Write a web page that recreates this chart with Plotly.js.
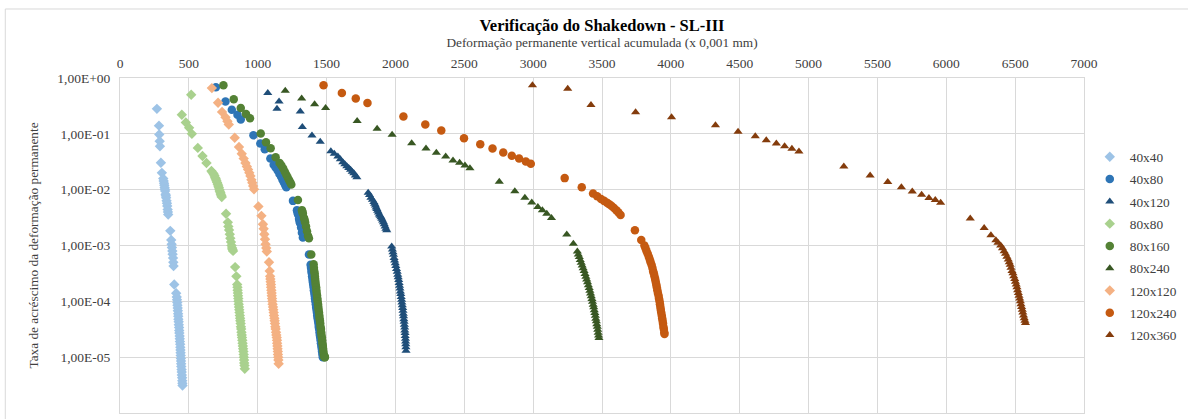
<!DOCTYPE html>
<html>
<head>
<meta charset="utf-8">
<script src="https://cdn.plot.ly/plotly-3.0.1.min.js"></script>
<style>html,body{margin:0;padding:0;background:#fff;}#chart{width:1188px;height:419px;}</style>
</head>
<body>
<div id="chart"></div>
<script>
// ---- Data ----
const seriesNames = ["40x40","40x80","40x120","80x80","80x160","80x240","120x120","120x240","120x360"];

const x_40x40 = [268,283,285,288,290,297,304,314,317,320,322,324,326,328,331,333,335,338,341,343,346,348,350,365,372,375,377,380,382,385,387,389,394,408,412,414,416,417,419,420,422,423,424,426,427,429,430,431,433,434,435,437,438,439,440,441,442,443,444,445,447,448,449,451,452,453,454];
const y_40x40 = [0.28,0.14,0.097,0.074,0.06,0.0304,0.020,0.0158,0.0143,0.013,0.012,0.0109,0.0102,0.0095,0.0083,0.0078,0.0072,0.0063,0.0057,0.0051,0.0044,0.004,0.0036,0.00183,0.00126,0.00105,0.00092,0.0008,0.0007,0.0006,0.0005,0.00043,0.0002,0.00014,1.2e-4,1.07e-4,9.5e-5,8.5e-5,7.6e-5,6.8e-5,6.0e-5,5.4e-5,4.8e-5,4.3e-5,3.8e-5,3.4e-5,3.0e-5,2.7e-5,2.4e-5,2.14e-5,1.9e-5,1.7e-5,1.5e-5,1.35e-5,1.2e-5,1.07e-5,9.5e-6,8.5e-6,7.6e-6,6.8e-6,6.0e-6,5.4e-6,4.8e-6,4.3e-6,3.8e-6,3.4e-6,3.1e-6];

const x_40x80 = [696,766,812,853,877,969,1019,1051,1092,1116,1130,1145,1158,1170,1180,1190,1200,1208,1256,1285,1289,1293,1300,1304,1308,1315,1321,1328,1372,1384,1387,1390,1393,1395,1398,1400,1403,1406,1408,1411,1414,1416,1419,1422,1424,1427,1430,1432,1435,1438,1441,1443,1446,1449,1451,1454,1457,1459,1462,1465,1467,1470,1473];
const y_40x80 = [0.68,0.38,0.27,0.22,0.18,0.094,0.067,0.053,0.036,0.028,0.025,0.022,0.019,0.017,0.015,0.0135,0.012,0.0111,0.0063,0.0043,0.0039,0.0036,0.003,0.0027,0.0025,0.0021,0.0017,0.00139,0.00069,4.5e-4,4.0e-4,3.5e-4,3.2e-4,2.8e-4,2.5e-4,2.24e-4,2.0e-4,1.78e-4,1.58e-4,1.41e-4,1.26e-4,1.12e-4,1.0e-4,8.9e-5,7.9e-5,7.1e-5,6.3e-5,5.6e-5,5.0e-5,4.5e-5,4.0e-5,3.5e-5,3.2e-5,2.8e-5,2.5e-5,2.24e-5,2.0e-5,1.78e-5,1.58e-5,1.41e-5,1.26e-5,1.12e-5,1.0e-5];

const x_40x120 = [1073,1155,1140,1309,1324,1394,1454,1531,1556,1582,1600,1618,1633,1647,1661,1674,1686,1698,1709,1720,1802,1812,1822,1833,1843,1849,1855,1860,1865,1871,1877,1883,1889,1895,1901,1907,1913,1919,1925,1931,1937,1973,1978,1982,1986,1990,1994,1999,2003,2008,2013,2017,2020,2024,2027,2030,2033,2036,2039,2042,2045,2047,2050,2053,2055,2057,2059,2061,2063,2065,2067,2068,2070,2071,2073,2074,2075,2076,2077];
const y_40x120 = [0.54,0.38,0.28,0.25,0.133,0.093,0.072,0.049,0.044,0.0393,0.035,0.031,0.0285,0.0263,0.0245,0.0228,0.021,0.0196,0.018,0.0167,0.0088,0.008,0.0072,0.0066,0.006,0.0056,0.0052,0.0048,0.0045,0.0042,0.0039,0.0036,0.0034,0.0032,0.003,0.0028,0.0026,0.0024,0.0022,0.002,0.00188,9.6e-4,8.5e-4,7.6e-4,6.8e-4,6.0e-4,5.4e-4,4.8e-4,4.3e-4,3.8e-4,3.4e-4,3.0e-4,2.7e-4,2.4e-4,2.14e-4,1.9e-4,1.7e-4,1.5e-4,1.35e-4,1.2e-4,1.07e-4,9.5e-5,8.5e-5,7.6e-5,6.8e-5,6.0e-5,5.4e-5,4.8e-5,4.3e-5,3.8e-5,3.4e-5,3.0e-5,2.7e-5,2.4e-5,2.14e-5,1.9e-5,1.7e-5,1.5e-5,1.3e-5];

const x_80x80 = [517,449,478,502,522,565,599,628,664,672,680,686,691,696,700,705,710,714,718,722,725,729,732,736,739,770,783,787,792,797,801,806,810,814,817,821,836,845,851,853,854,856,857,859,860,862,864,866,868,870,872,874,876,878,880,882,884,886,888,890,892,894,896,898,899,901,902,904,906];
const y_80x80 = [0.5,0.22,0.16,0.128,0.1,0.056,0.04,0.03,0.0217,0.0202,0.019,0.0177,0.0164,0.0155,0.0145,0.0135,0.0125,0.0116,0.0108,0.01,0.0094,0.0088,0.0083,0.0078,0.0074,0.0037,0.0026,0.0022,0.0019,0.00159,0.00135,0.00115,0.001,0.0009,0.00085,0.0008,0.00041,0.00028,2.0e-4,1.78e-4,1.58e-4,1.41e-4,1.26e-4,1.12e-4,1.0e-4,8.9e-5,7.9e-5,7.1e-5,6.3e-5,5.6e-5,5.0e-5,4.5e-5,4.0e-5,3.5e-5,3.2e-5,2.8e-5,2.5e-5,2.24e-5,2.0e-5,1.78e-5,1.58e-5,1.41e-5,1.26e-5,1.12e-5,1.0e-5,8.9e-6,7.9e-6,7.1e-6,6.2e-6];

const x_80x160 = [751,826,877,915,944,1022,1060,1094,1130,1159,1172,1185,1197,1208,1218,1228,1237,1244,1292,1321,1325,1328,1336,1340,1344,1351,1358,1365,1372,1389,1406,1408,1410,1413,1415,1417,1419,1421,1424,1426,1428,1431,1433,1435,1438,1440,1442,1445,1447,1449,1452,1454,1456,1459,1461,1463,1466,1468,1470,1473,1475,1477,1480,1482,1484,1486,1488];
const y_80x160 = [0.74,0.415,0.29,0.227,0.19,0.101,0.071,0.055,0.038,0.030,0.027,0.024,0.021,0.0185,0.0165,0.0148,0.0135,0.0124,0.0065,0.0043,0.004,0.0037,0.0031,0.0029,0.0026,0.0022,0.0018,0.0015,0.00135,0.00069,4.6e-4,4.0e-4,3.5e-4,3.2e-4,2.8e-4,2.5e-4,2.24e-4,2.0e-4,1.78e-4,1.58e-4,1.41e-4,1.26e-4,1.12e-4,1.0e-4,8.9e-5,7.9e-5,7.1e-5,6.3e-5,5.6e-5,5.0e-5,4.5e-5,4.0e-5,3.5e-5,3.2e-5,2.8e-5,2.5e-5,2.24e-5,2.0e-5,1.78e-5,1.58e-5,1.41e-5,1.26e-5,1.12e-5,1.05e-5,1.02e-5,1.0e-5,1.0e-5];

const x_80x240 = [1200,1319,1413,1493,1722,1867,1976,2118,2222,2297,2365,2418,2466,2505,2541,2754,2867,2940,2990,3034,3067,3099,3133,3244,3292,3321,3328,3335,3342,3349,3356,3363,3370,3377,3383,3389,3395,3401,3407,3412,3417,3422,3427,3431,3436,3440,3444,3448,3452,3455,3459,3462,3466,3469,3472,3475,3478];
const y_80x240 = [0.59,0.43,0.34,0.29,0.17,0.123,0.096,0.068,0.0546,0.0457,0.0393,0.0333,0.0303,0.0272,0.0243,0.0139,0.0094,0.0072,0.0059,0.0049,0.0043,0.0037,0.0031,0.00157,0.00107,7.8e-4,6.9e-4,6.2e-4,5.5e-4,4.9e-4,4.4e-4,3.9e-4,3.5e-4,3.1e-4,2.75e-4,2.45e-4,2.2e-4,1.95e-4,1.74e-4,1.55e-4,1.38e-4,1.23e-4,1.1e-4,9.8e-5,8.7e-5,7.8e-5,6.9e-5,6.2e-5,5.5e-5,4.9e-5,4.4e-5,3.9e-5,3.5e-5,3.1e-5,2.75e-5,2.45e-5,2.2e-5];

const x_120x120 = [667,712,741,766,780,790,833,864,884,898,911,921,930,939,947,954,961,967,973,1005,1027,1038,1043,1048,1053,1057,1062,1066,1082,1087,1090,1092,1094,1096,1097,1099,1101,1102,1104,1106,1108,1111,1113,1116,1118,1121,1123,1125,1128,1130,1133,1135,1138,1140,1141,1143,1144,1146,1147,1149,1150,1152];
const y_120x120 = [0.66,0.36,0.247,0.198,0.168,0.147,0.085,0.058,0.044,0.036,0.030,0.026,0.023,0.020,0.0176,0.015,0.0133,0.0116,0.0102,0.005,0.0034,0.0024,0.002,0.00159,0.0013,0.00105,0.0009,0.00078,0.0005,0.00035,2.8e-4,2.5e-4,2.24e-4,2.0e-4,1.78e-4,1.58e-4,1.41e-4,1.26e-4,1.12e-4,1.0e-4,8.9e-5,7.9e-5,7.1e-5,6.3e-5,5.6e-5,5.0e-5,4.5e-5,4.0e-5,3.5e-5,3.2e-5,2.8e-5,2.5e-5,2.24e-5,2.0e-5,1.78e-5,1.58e-5,1.41e-5,1.26e-5,1.12e-5,1.0e-5,8.9e-6,7.6e-6];

const x_120x240 = [1478,1611,1712,1797,2058,2217,2333,2498,2616,2705,2783,2845,2898,2947,2983,3229,3353,3435,3465,3493,3515,3536,3553,3570,3587,3604,3620,3635,3739,3785,3808,3816,3824,3832,3840,3847,3853,3860,3866,3871,3876,3881,3886,3890,3894,3898,3902,3906,3911,3914,3918,3921,3924,3927,3930,3934,3937,3940,3943,3946,3949,3952,3954];
const y_120x240 = [0.74,0.54,0.43,0.357,0.204,0.147,0.115,0.0835,0.065,0.0546,0.0464,0.0405,0.0362,0.032,0.0291,0.0161,0.011,0.0085,0.0076,0.0068,0.0063,0.00586,0.0055,0.0051,0.0047,0.00427,0.0039,0.00352,0.00188,0.00126,1.0e-3,8.9e-4,7.9e-4,7.1e-4,6.3e-4,5.6e-4,5.0e-4,4.5e-4,4.0e-4,3.5e-4,3.2e-4,2.8e-4,2.5e-4,2.24e-4,2.0e-4,1.78e-4,1.58e-4,1.41e-4,1.26e-4,1.12e-4,1.0e-4,8.9e-5,7.9e-5,7.1e-5,6.3e-5,5.6e-5,5.0e-5,4.5e-5,4.0e-5,3.5e-5,3.2e-5,2.8e-5,2.6e-5];

const x_120x360 = [2995,3251,3420,3744,4005,4324,4488,4613,4693,4766,4826,4879,4930,5256,5447,5575,5674,5753,5821,5874,5920,5959,6174,6275,6324,6360,6375,6395,6408,6420,6430,6440,6450,6457,6464,6470,6477,6484,6490,6497,6502,6508,6513,6518,6523,6528,6533,6538,6542,6547,6552,6556,6561,6566,6571,6575];
const y_120x360 = [0.74,0.64,0.33,0.243,0.198,0.143,0.109,0.0906,0.0769,0.067,0.060,0.054,0.0483,0.0261,0.018,0.0137,0.011,0.0093,0.0081,0.0071,0.0065,0.00586,0.00303,0.00206,0.00153,0.00124,1.12e-3,1.0e-3,8.9e-4,7.9e-4,7.1e-4,6.3e-4,5.6e-4,5.0e-4,4.5e-4,4.0e-4,3.5e-4,3.2e-4,2.8e-4,2.5e-4,2.24e-4,2.0e-4,1.78e-4,1.58e-4,1.41e-4,1.26e-4,1.12e-4,1.0e-4,8.9e-5,7.9e-5,7.1e-5,6.3e-5,5.6e-5,5.0e-5,4.5e-5,4.1e-5];

const yTickVals = [1, 0.1, 0.01, 0.001, 0.0001, 0.00001, 0.000001];
const yTickText = ["1,00E+00","1,00E-01","1,00E-02","1,00E-03","1,00E-04","1,00E-05","1,00E-06"];

// ---- Styles ----
const xs = [x_40x40,x_40x80,x_40x120,x_80x80,x_80x160,x_80x240,x_120x120,x_120x240,x_120x360];
const ys = [y_40x40,y_40x80,y_40x120,y_80x80,y_80x160,y_80x240,y_120x120,y_120x240,y_120x360];
const colors = ["#9DC3E6","#2E75B6","#1F4E79","#A9D18E","#548235","#385723","#F4B183","#C55A11","#843C0C"];
const symbols = ["diamond","circle","triangle-up","diamond","circle","triangle-up","diamond","circle","triangle-up"];
const sizes = [8,8.5,8,8,8.5,8,8,8.5,8];

const FONT = "Liberation Serif, Times New Roman, serif";

const traces = seriesNames.map((n,i)=>({
  type:'scatter', mode:'markers', name:n,
  x: xs[i], y: ys[i],
  legendgroup: 'g'+i,
  marker:{color:colors[i], symbol:symbols[i], size:sizes[i], line:{width:0}},
  cliponaxis:false
}));

const layout = {
  width:1188, height:419,
  margin:{l:120, r:102, t:78, b:6},
  paper_bgcolor:'#fff', plot_bgcolor:'#fff',
  font:{family:FONT, size:13.3, color:'#404040'},
  title:{text:'Verificação do Shakedown - SL-III', font:{family:FONT, size:16.5, color:'#000', weight:'bold'},
         x:0.5, xanchor:'center', xref:'paper', y:0.94, yanchor:'middle'},
  xaxis:{
    side:'top', range:[0,7000], dtick:500, tick0:0,
    showgrid:true, gridcolor:'#d9d9d9', gridwidth:1,
    showline:true, linecolor:'#d9d9d9', mirror:true,
    zeroline:false, ticks:'', ticklabelstandoff:4,
    tickfont:{family:FONT, size:13.5, color:'#404040'},
    title:{text:'Deformação permanente vertical acumulada (x 0,001 mm)', font:{family:FONT, size:13.3, color:'#404040'}, standoff:4}
  },
  yaxis:{
    type:'log', range:[-6,0],
    tickvals:yTickVals, ticktext:yTickText,
    showgrid:true, gridcolor:'#d9d9d9', gridwidth:1,
    showline:true, linecolor:'#d9d9d9', mirror:true,
    zeroline:false, ticks:'', ticklabelstandoff:6,
    tickfont:{family:FONT, size:13.5, color:'#404040'},
    title:{text:'Taxa de acréscimo da deformação permanente', font:{family:FONT, size:13.3, color:'#404040'}, standoff:15}
  },
  legend:{
    x:1.006, xanchor:'left', y:0.81, yanchor:'top',
    font:{family:FONT, size:13.3, color:'#404040'},
    traceorder:'grouped', tracegroupgap:2,
    bgcolor:'rgba(0,0,0,0)', borderwidth:0, itemwidth:30
  },
  shapes:[
    {type:'line', xref:'paper', yref:'paper', x0:-0.119, x1:1.11, y0:1.206, y1:1.206, line:{color:'#d9d9d9', width:1}},
    {type:'line', xref:'paper', yref:'paper', x0:-0.119, x1:-0.119, y0:1.206, y1:-0.05, line:{color:'#d9d9d9', width:1}}
  ],
  showlegend:true
};

Plotly.newPlot('chart', traces, layout, {staticPlot:true, displayModeBar:false});
</script>
</body>
</html>
